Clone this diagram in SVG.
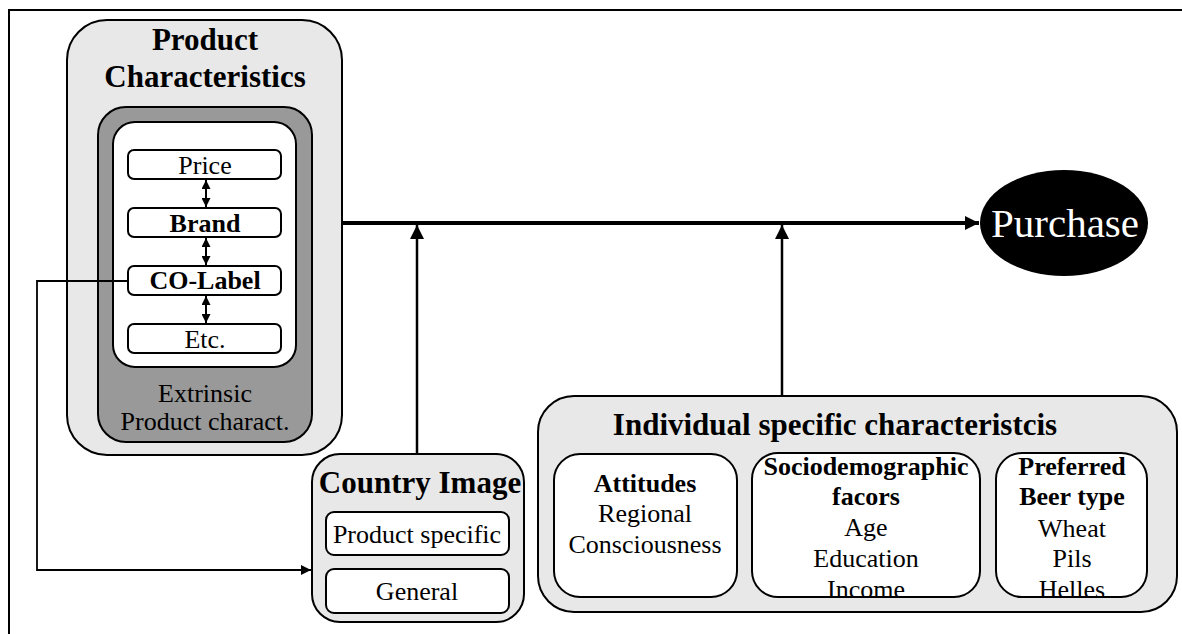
<svg xmlns="http://www.w3.org/2000/svg" width="1182" height="634" viewBox="0 0 1182 634">
<style>
.t{font-family:"Liberation Serif","Times New Roman",serif;fill:#000;text-anchor:middle}
.b{font-weight:bold}
.lg{fill:#e8e8e8;stroke:#000;stroke-width:2}
.wb{fill:#fff;stroke:#000;stroke-width:2}
.ln{fill:none;stroke:#000}
</style>
<defs>
<marker id="ah" viewBox="0 0 10 10" refX="10" refY="5" markerWidth="14" markerHeight="14" markerUnits="userSpaceOnUse" orient="auto"><path d="M0,0 L10,5 L0,10 z" fill="#000"/></marker>
<marker id="ahs" viewBox="0 0 10 10" refX="10" refY="5" markerWidth="10" markerHeight="10" markerUnits="userSpaceOnUse" orient="auto"><path d="M0,0 L10,5 L0,10 z" fill="#000"/></marker>
<marker id="ahd" viewBox="0 0 10 10" refX="10" refY="5" markerWidth="9" markerHeight="9" markerUnits="userSpaceOnUse" orient="auto-start-reverse"><path d="M0,0 L10,5 L0,10 z" fill="#000"/></marker>
</defs>
<rect x="0" y="0" width="1182" height="634" fill="#fff"/>
<rect x="9" y="10" width="1300" height="800" fill="none" stroke="#000" stroke-width="2"/>

<g id="product-characteristics">
<rect class="lg" x="67" y="20" width="275" height="435" rx="40"/>
<text class="t b" x="205" y="50" font-size="31">Product</text>
<text class="t b" x="205" y="87" font-size="31">Characteristics</text>
<rect x="98" y="107" width="214" height="335" rx="28" fill="#999" stroke="#000" stroke-width="2"/>
<rect class="wb" x="113" y="122" width="183" height="245" rx="22"/>
<text class="t" x="205" y="402" font-size="26" fill="#222">Extrinsic</text>
<text class="t" x="205" y="430" font-size="26" fill="#222">Product charact.</text>
</g>
<g id="price"><rect class="wb" x="128" y="150" width="153" height="29" rx="6"/><text class="t" x="205" y="174" font-size="26">Price</text></g>
<g id="brand"><rect class="wb" x="128" y="208" width="153" height="29" rx="6"/><text class="t b" x="205" y="232" font-size="26">Brand</text></g>
<g id="co-label"><rect class="wb" x="128" y="266" width="153" height="29" rx="6"/><text class="t b" x="205" y="289" font-size="26">CO-Label</text></g>
<g id="etc"><rect class="wb" x="128" y="324" width="153" height="29" rx="6"/><text class="t" x="205" y="348" font-size="26">Etc.</text></g>

<g id="purchase">
<ellipse cx="1064" cy="223" rx="84" ry="53" fill="#000"/>
<text class="t" x="1065" y="237" font-size="41" style="fill:#fff">Purchase</text>
</g>

<g id="country-image">
<rect class="lg" x="312" y="454" width="212" height="168" rx="28"/>
<text class="t b" x="420" y="493" font-size="31">Country Image</text>
<rect class="wb" x="326" y="512" width="183" height="43" rx="8"/>
<text class="t" x="417" y="543" font-size="26">Product specific</text>
<rect class="wb" x="326" y="569" width="183" height="44" rx="8"/>
<text class="t" x="417" y="600" font-size="26">General</text>
</g>

<g id="individual">
<rect class="lg" x="538" y="396" width="639" height="216" rx="36"/>
<text class="t b" x="835" y="435" font-size="31">Individual specific characteristcis</text>
<rect class="wb" x="554" y="454" width="183" height="143" rx="26"/>
<text class="t b" x="645" y="492" font-size="26">Attitudes</text>
<text class="t" x="645" y="522" font-size="26">Regional</text>
<text class="t" x="645" y="553" font-size="26">Consciousness</text>
<rect class="wb" x="752" y="453" width="228" height="144" rx="26"/>
<text class="t b" x="866" y="475" font-size="26">Sociodemographic</text>
<text class="t b" x="866" y="505" font-size="26">facors</text>
<text class="t" x="866" y="536" font-size="26">Age</text>
<text class="t" x="866" y="567" font-size="26">Education</text>
<text class="t" x="866" y="598" font-size="26">Income</text>
<rect class="wb" x="996" y="453" width="151" height="144" rx="26"/>
<text class="t b" x="1072" y="475" font-size="26">Preferred</text>
<text class="t b" x="1072" y="505" font-size="26">Beer type</text>
<text class="t" x="1072" y="537" font-size="26">Wheat</text>
<text class="t" x="1072" y="567" font-size="26">Pils</text>
<text class="t" x="1072" y="598" font-size="26">Helles</text>
</g>

<g id="connectors">
<line class="ln" x1="342" y1="223" x2="979" y2="223" stroke-width="4" marker-end="url(#ah)"/>
<line class="ln" x1="417" y1="454" x2="417" y2="225" stroke-width="2.5" marker-end="url(#ah)"/>
<line class="ln" x1="782" y1="396" x2="782" y2="225" stroke-width="2.5" marker-end="url(#ah)"/>
<polyline class="ln" points="128,281 37,281 37,570 311,570" stroke-width="1.8" marker-end="url(#ahs)"/>
<line class="ln" x1="206" y1="180" x2="206" y2="207" stroke-width="2" marker-start="url(#ahd)" marker-end="url(#ahd)"/>
<line class="ln" x1="206" y1="238" x2="206" y2="265" stroke-width="2" marker-start="url(#ahd)" marker-end="url(#ahd)"/>
<line class="ln" x1="206" y1="296" x2="206" y2="323" stroke-width="2" marker-start="url(#ahd)" marker-end="url(#ahd)"/>
</g>
</svg>
